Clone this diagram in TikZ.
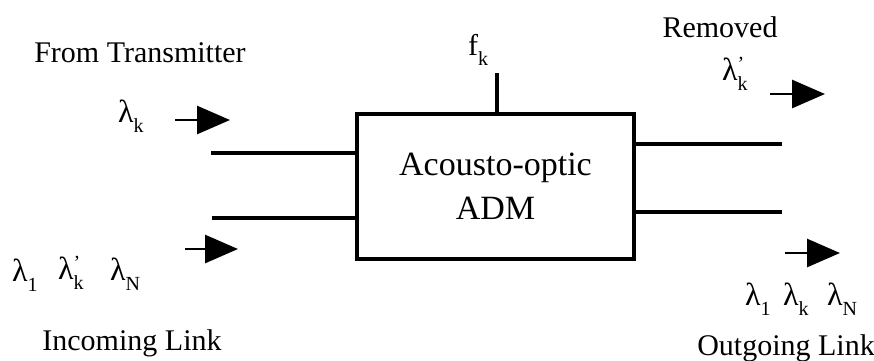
\documentclass[tikz,border=0pt]{standalone}
\usepackage{fontspec}
\setmainfont{Liberation Serif}
\usetikzlibrary{arrows.meta}
\newcommand\lsub[1]{\raisebox{-10pt}{\fontsize{20}{20}\selectfont #1}}
\newcommand\lm[1]{{\fontsize{32}{32}\selectfont λ}\lsub{#1}}
\newcommand\lmp[1]{{\fontsize{32}{32}\selectfont λ}\rlap{\raisebox{10pt}{\fontsize{20}{20}\selectfont '}}\lsub{#1}}
\begin{document}
\begin{tikzpicture}[x=1pt,y=-1pt,
  lbl/.style={inner sep=0pt,font=\fontsize{30}{30}\selectfont},
  wire/.style={line width=3.2pt},
  flow/.style={line width=2.8pt,-{Triangle[length=33pt,width=28pt]}}]
\useasboundingbox (0,0) rectangle (874,360);
% box
\node[draw,line width=3.4pt,minimum width=277pt,minimum height=145pt,inner sep=0pt,
      align=center,font=\fontsize{34}{44}\selectfont] (box) at (495.5,186.5)
      {Acousto-optic\\ADM};
% wires
\coordinate (i1) at (211,153);
\coordinate (i2) at (212,218);
\coordinate (o1) at (782,144);
\coordinate (o2) at (782,212);
\coordinate (ftop) at (497,73);
\draw[wire] (i1) -- (i1 -| box.west);
\draw[wire] (i2) -- (i2 -| box.west);
\draw[wire] (o1 -| box.east) -- (o1);
\draw[wire] (o2 -| box.east) -- (o2);
\draw[wire] (ftop) -- (ftop |- box.north);
% arrows
\coordinate (a1s) at (175,120); \coordinate (a1e) at (230,120);
\coordinate (a2s) at (185,249); \coordinate (a2e) at (238,249);
\coordinate (a3s) at (770,94);  \coordinate (a3e) at (825,94);
\coordinate (a4s) at (785,253); \coordinate (a4e) at (840,253);
\draw[flow] (a1s) -- (a1e);
\draw[flow] (a2s) -- (a2e);
\draw[flow] (a3s) -- (a3e);
\draw[flow] (a4s) -- (a4e);
% labels
\node[lbl,anchor=base] (tx) at (140,62) {From Transmitter};
\node[lbl,anchor=base west] (lk) at (118,122) {\lm{k}};
\node[lbl,anchor=base west] (l1) at (12,281) {\lm{1}};
\node[lbl,anchor=base west] (lkp) at (58,279) {\lmp{k}};
\node[lbl,anchor=base west] (lN) at (110,280) {\lm{N}};
\node[lbl,anchor=base] (inc) at (132,350) {Incoming Link};
\node[lbl,anchor=base west] (fk) at (468,55) {f\lsub{k}};
\node[lbl,anchor=base] (rem) at (720,37) {Removed};
\node[lbl,anchor=base west] (rk) at (722,80) {\lmp{k}};
\node[lbl,anchor=base west] (r1) at (745,305) {\lm{1}};
\node[lbl,anchor=base west] (rkk) at (783,305) {\lm{k}};
\node[lbl,anchor=base west] (rN) at (827,305) {\lm{N}};
\node[lbl,anchor=base] (out) at (786,355) {Outgoing Link};
\end{tikzpicture}
\end{document}
